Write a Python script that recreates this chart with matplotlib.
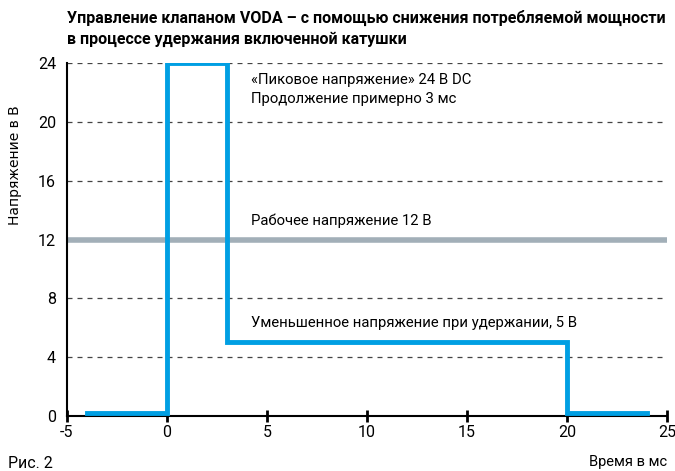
import matplotlib
matplotlib.use("Agg")
import matplotlib.pyplot as plt

plt.rcParams['font.family'] = ['Roboto', 'DejaVu Sans']
plt.rcParams['axes.unicode_minus'] = False

# Coil voltage profile (ms, V)
time_ms = [-4, 0, 0, 3, 3, 20, 20, 24]
voltage = [0.2, 0.2, 24, 24, 5, 5, 0.2, 0.2]
operating_voltage = 12
x_ticks = [-5, 0, 5, 10, 15, 20, 25]
y_ticks = [0, 4, 8, 12, 16, 20, 24]
grid_levels = [4, 8, 16, 20, 24]

blue = "#009FE3"
grey = "#A2AFB8"

fig = plt.figure(figsize=(6.75, 4.71), dpi=100)
ax = fig.add_axes([67/675, 1 - 416/471, 600/675, 353/471])
ax.set_xlim(-5, 25)
ax.set_ylim(0, 24)

for g in grid_levels:
    ax.axhline(g, color="#444444", lw=0.9, ls=(0, (4, 4)), zorder=1)
ax.axhline(operating_voltage, color=grey, lw=4, zorder=2)
ax.plot(time_ms, voltage, color=blue, lw=3.5, solid_joinstyle="miter", zorder=3)

for s in ["top", "right"]:
    ax.spines[s].set_visible(False)
ax.spines["left"].set_linewidth(1.5)
ax.spines["bottom"].set_linewidth(1.5)
ax.set_xticks(x_ticks)
ax.set_yticks(y_ticks)
ax.tick_params(axis="x", direction="inout", length=9, width=2, labelsize=11.5, pad=2)
ax.tick_params(axis="y", length=0, labelsize=11.5, pad=8)
ax.spines["bottom"].set_clip_on(False)

fig.text(67/675, 1 - 18/471, "Управление клапаном VODA – с помощью снижения потребляемой мощности",
         fontsize=11.5, fontweight="bold", va="center", ha="left")
fig.text(67/675, 1 - 39/471, "в процессе удержания включенной катушки",
         fontsize=11.5, fontweight="bold", va="center", ha="left")
fig.text(15/675, 1 - 165/471, "Напряжение в В", rotation=90, fontsize=10,
         va="center", ha="center", family="DejaVu Sans")
fig.text(667/675, 1 - 462/471, "Время в мс", fontsize=10.5, va="center", ha="right")
fig.text(8/675, 1 - 464/471, "Рис. 2", fontsize=11.5, va="center", ha="left")

ax.text(4.2, 22.85, "«Пиковое напряжение» 24 В DC", fontsize=10.7, va="center")
ax.text(4.2, 21.55, "Продолжение примерно 3 мс", fontsize=10.7, va="center")
ax.text(4.2, 13.3, "Рабочее напряжение 12 В", fontsize=10.7, va="center")
ax.text(4.2, 6.3, "Уменьшенное напряжение при удержании, 5 В", fontsize=10.7, va="center")

fig.savefig("out.png", dpi=100)
